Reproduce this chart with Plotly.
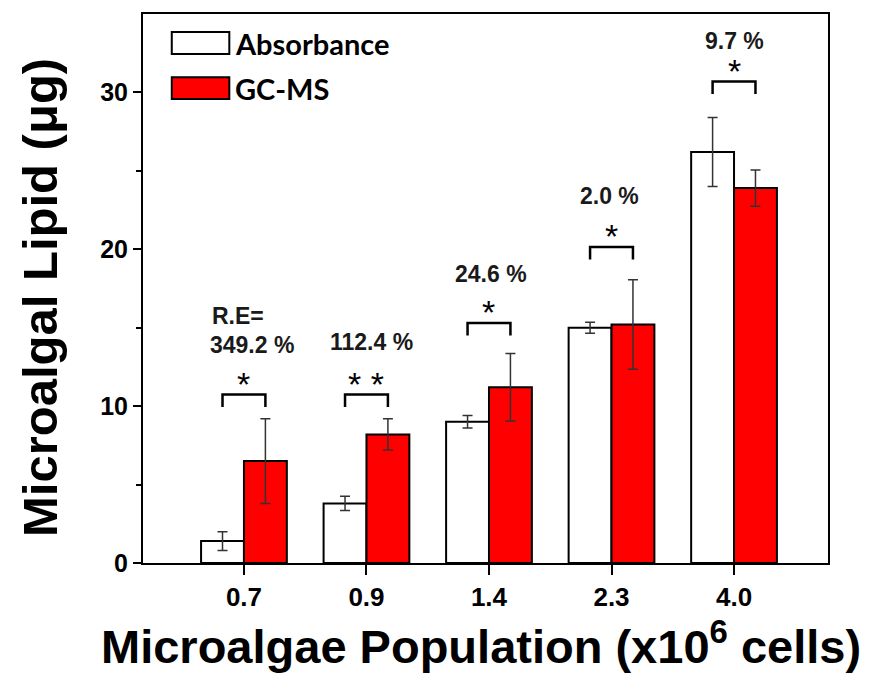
import plotly.graph_objects as go

categories = ["0.7", "0.9", "1.4", "2.3", "4.0"]
absorbance = [1.4, 3.8, 9.0, 15.0, 26.2]
absorbance_err = [0.6, 0.45, 0.4, 0.35, 2.2]
gcms = [6.5, 8.2, 11.2, 15.2, 23.9]
gcms_err = [2.7, 1.0, 2.15, 2.85, 1.15]
re_labels = ["349.2 %", "112.4 %", "24.6 %", "2.0 %", "9.7 %"]
stars = ["*", "* *", "*", "*", "*"]
bracket_y = [10.75, 10.75, 15.3, 20.15, 30.7]

xs = list(range(len(categories)))
W = 0.35

fig = go.Figure()
fig.add_trace(go.Bar(
    x=xs, y=absorbance, width=W, offset=-W, name="Absorbance",
    marker=dict(color="white", line=dict(color="black", width=2)),
    error_y=dict(type="data", array=absorbance_err, color="#333333", thickness=1.5, width=5),
    showlegend=False))
fig.add_trace(go.Bar(
    x=xs, y=gcms, width=W, offset=0, name="GC-MS",
    marker=dict(color="#ff0000", line=dict(color="black", width=2)),
    error_y=dict(type="data", array=gcms_err, color="#333333", thickness=1.5, width=5),
    showlegend=False))

shapes = []
annotations = []
for i, by in enumerate(bracket_y):
    x0, x1 = i - W / 2, i + W / 2
    shapes.append(dict(type="path", xref="x", yref="y",
                       path=f"M {x0} {by-0.8} L {x0} {by} L {x1} {by} L {x1} {by-0.8}",
                       line=dict(color="black", width=2.5)))
    annotations.append(dict(x=i, y=by - 0.66, xref="x", yref="y", text=stars[i],
                            showarrow=False, yanchor="bottom",
                            font=dict(family="Liberation Sans", size=34, color="black")))

label_pos = [(0.065, 13.9), (1.045, 14.08), (2.02, 18.4), (2.98, 23.4), (4.0, 33.3)]
for (lx, ly), t in zip(label_pos, re_labels):
    annotations.append(dict(x=lx, y=ly, xref="x", yref="y", text=f"<b>{t}</b>",
                            showarrow=False, yanchor="middle",
                            font=dict(family="Liberation Sans", size=23, color="#1a1a1a")))
annotations.append(dict(x=-0.05, y=15.75, xref="x", yref="y", text="<b>R.E=</b>",
                        showarrow=False, yanchor="middle",
                        font=dict(family="Liberation Sans", size=23, color="#1a1a1a")))

# custom legend
legend_items = [("Absorbance", "white", 0.947), ("GC-MS", "#ff0000", 0.865)]
for name, col, yc in legend_items:
    shapes.append(dict(type="rect", xref="paper", yref="paper",
                       x0=0.042, x1=0.126, y0=yc - 0.02, y1=yc + 0.02,
                       fillcolor=col, line=dict(color="black", width=2)))
    annotations.append(dict(x=0.132, y=yc, xref="paper", yref="paper", xanchor="left",
                            yanchor="middle", text=f"<b>{name}</b>", showarrow=False,
                            font=dict(family="Lato", size=29, color="black")))

# axis titles
annotations.append(dict(x=(40 - 143) / 685, y=1 - (298 - 14) / 549, xref="paper", yref="paper",
                        xanchor="center", yanchor="middle", textangle=-90, showarrow=False,
                        text="<b>Microalgal Lipid (μg)</b>",
                        font=dict(family="Liberation Sans", size=49, color="black")))
annotations.append(dict(x=(481 - 143) / 685, y=-(643 - 563) / 549, xref="paper", yref="paper",
                        xanchor="center", yanchor="middle", showarrow=False,
                        text="<b>Microalgae Population (x10<sup>6</sup> cells)</b>",
                        font=dict(family="Liberation Sans", size=47, color="black")))

fig.update_layout(
    width=881, height=677,
    margin=dict(l=143, r=53, t=14, b=114),
    plot_bgcolor="white", paper_bgcolor="white",
    shapes=shapes, annotations=annotations,
    xaxis=dict(range=[-0.824, 4.767], tickvals=xs, ticktext=[f"<b>{c}</b>" for c in categories],
               showline=True, linecolor="black", linewidth=2, mirror=True,
               ticks="outside", ticklen=10, tickwidth=2, tickcolor="black",
               showgrid=False, zeroline=False,
               tickfont=dict(family="Liberation Sans", size=26, color="black")),
    yaxis=dict(range=[0, 35], tickvals=[0, 10, 20, 30],
               ticktext=["<b>0</b>", "<b>10</b>", "<b>20</b>", "<b>30</b>"],
               showline=True, linecolor="black", linewidth=2, mirror=True,
               ticks="outside", ticklen=8, tickwidth=2, tickcolor="black",
               minor=dict(tickvals=[5, 15, 25], ticks="outside", ticklen=5, tickwidth=2, tickcolor="black"),
               showgrid=False, zeroline=False,
               tickfont=dict(family="Liberation Sans", size=25, color="black")),
)

fig.write_html("out.html")
